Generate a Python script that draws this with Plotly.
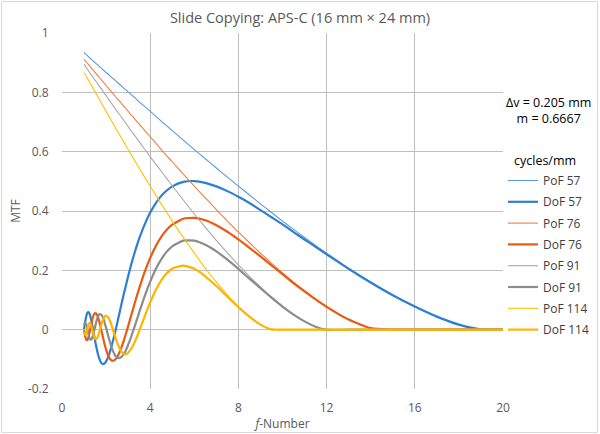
import plotly.graph_objects as go

# f-number sample positions (x axis)
f_number = [1.0, 1.05, 1.1, 1.15, 1.2, 1.25, 1.3, 1.35, 1.4, 1.45, 1.5, 1.55, 1.6, 1.65, 1.7, 1.75, 1.8, 1.85,
            1.9, 1.95, 2.0, 2.1, 2.2, 2.3, 2.4, 2.5, 2.6, 2.7, 2.8, 2.9, 3.0, 3.1, 3.2, 3.3, 3.4, 3.5,
            3.75, 4.0, 4.25, 4.5, 4.75, 5.0, 5.5, 6.0, 6.5, 7.0, 7.5, 8.0, 8.5, 9.0, 9.5, 10.0, 10.5, 11.0,
            11.5, 12.0, 13, 14, 15, 16, 17, 18, 19, 20]

# MTF values (x1000)
pof_57 = [934, 930, 927, 924, 920, 917, 914, 910, 907, 904, 900, 897, 894, 890, 887, 884, 880, 877, 874, 870, 867,
          861, 854, 847, 841, 834, 828, 821, 814, 808, 801, 795, 788, 782, 775, 768,
          752, 736, 720, 703, 687, 671, 639, 607, 576, 545, 514, 484, 454, 424, 395, 366, 338, 311, 284, 258,
          207, 160, 117, 78, 44, 17, 1, 0]
dof_57 = [2, 26, 45, 57, 59, 54, 41, 24, 5, -16, -37, -56, -73, -88, -99, -108, -113, -116, -115, -112, -107,
          -91, -68, -41, -11, 21, 54, 87, 119, 150, 180, 209, 236, 261, 285, 307,
          355, 395, 426, 451, 469, 483, 498, 501, 495, 483, 467, 448, 427, 403, 379, 355, 329, 304, 279, 254,
          205, 159, 116, 78, 44, 17, 1, 0]
pof_76 = [911, 907, 903, 898, 894, 889, 885, 880, 876, 872, 867, 863, 858, 854, 850, 845, 841, 836, 832, 828, 823,
          814, 806, 797, 788, 779, 771, 762, 753, 745, 736, 727, 719, 710, 701, 693,
          671, 650, 629, 607, 586, 566, 524, 484, 444, 405, 366, 329, 293, 258, 224, 191, 160, 131, 103, 78,
          34, 5, 0, 0, 0, 0, 0, 0]
dof_76 = [-2, -22, -34, -35, -26, -10, 9, 27, 42, 52, 56, 54, 48, 38, 25, 9, -7, -23, -39, -54, -67,
          -88, -101, -105, -102, -93, -78, -59, -38, -13, 12, 38, 64, 90, 115, 139,
          195, 242, 281, 313, 337, 354, 374, 377, 369, 352, 330, 304, 276, 247, 217, 187, 157, 129, 102, 77,
          34, 5, 0, 0, 0, 0, 0, 0]
pof_91 = [894, 889, 883, 878, 873, 867, 862, 857, 852, 846, 841, 836, 831, 825, 820, 815, 810, 804, 799, 794, 789,
          778, 768, 757, 747, 736, 726, 716, 705, 695, 685, 674, 664, 654, 644, 634,
          608, 583, 558, 534, 509, 485, 437, 390, 345, 301, 259, 218, 180, 144, 110, 79, 51, 28, 10, 0,
          0, 0, 0, 0, 0, 0, 0, 0]
dof_91 = [17, 25, 18, 3, -15, -29, -34, -31, -21, -7, 9, 25, 38, 47, 52, 52, 49, 42, 32, 19, 6,
          -22, -48, -70, -86, -94, -96, -92, -82, -69, -51, -32, -10, 12, 35, 58,
          113, 162, 204, 237, 263, 281, 300, 300, 286, 264, 236, 205, 172, 140, 108, 78, 51, 28, 10, 0,
          0, 0, 0, 0, 0, 0, 0, 0]
pof_114 = [867, 861, 854, 847, 841, 834, 828, 821, 814, 808, 801, 795, 788, 782, 775, 768, 762, 755, 749, 742, 736,
           723, 710, 697, 684, 671, 658, 646, 633, 620, 607, 595, 582, 570, 557, 545,
           514, 484, 454, 424, 395, 366, 311, 258, 207, 160, 117, 78, 44, 17, 1, 0, 0, 0, 0, 0,
           0, 0, 0, 0, 0, 0, 0, 0]
dof_114 = [-8, -18, -13, 2, 17, 23, 19, 7, -8, -21, -30, -32, -28, -18, -6, 7, 21, 32, 40, 46, 47,
           41, 25, 3, -21, -43, -61, -74, -81, -82, -78, -69, -57, -41, -24, -5,
           45, 92, 133, 166, 190, 206, 216, 205, 180, 147, 111, 76, 44, 17, 1, 0, 0, 0, 0, 0,
           0, 0, 0, 0, 0, 0, 0, 0]

series = [
    ("PoF 57", pof_57, "#5B9BD5", 1.1),
    ("DoF 57", dof_57, "#2E7FD2", 2.2),
    ("PoF 76", pof_76, "#F08040", 1.1),
    ("DoF 76", dof_76, "#EB5A0F", 2.2),
    ("PoF 91", pof_91, "#A8A8A8", 1.1),
    ("DoF 91", dof_91, "#8C8C8C", 2.2),
    ("PoF 114", pof_114, "#FFC000", 1.1),
    ("DoF 114", dof_114, "#FFB400", 2.2),
]

PL, PR, PT, PB = 62, 503, 33, 389
W, H = PR - PL, PB - PT


def px(x):
    return (x - PL) / W


def py(y):
    return (PB - y) / H


fig = go.Figure()
for i, (name, vals, color, w) in enumerate(series):
    fig.add_trace(go.Scatter(
        x=f_number, y=[v / 1000 for v in vals], mode="lines", name=name, legendgroup=f"g{i}",
        line=dict(color=color, width=w, shape="spline", smoothing=0.5)))

fig.update_layout(
    width=600, height=434, margin=dict(l=PL, r=600 - PR, t=PT, b=434 - PB, autoexpand=False),
    paper_bgcolor="white", plot_bgcolor="white",
    font=dict(family="Open Sans", size=12, color="#595959"),
    title=dict(text="Slide Copying: APS-C (16 mm × 24 mm)", x=0.5, xref="container", xanchor="center",
               y=1 - 17.5 / 434, yref="container", yanchor="middle", font=dict(size=14.5, color="#595959")),
    legend=dict(x=px(503), xanchor="left", y=py(166), yanchor="top",
                tracegroupgap=2.3, font=dict(size=12, color="#404040"), bgcolor="rgba(0,0,0,0)"),
    xaxis=dict(range=[0, 20], tickvals=[0, 4, 8, 12, 16, 20], showgrid=True, gridcolor="#BFBFBF",
               zeroline=False, ticks="outside", ticklen=8, tickcolor="rgba(0,0,0,0)", automargin=False,
               title=dict(text="<i>f</i>-Number", standoff=4, font=dict(size=12, color="#595959"))),
    yaxis=dict(range=[-0.2, 1], tickvals=[-0.2, 0, 0.2, 0.4, 0.6, 0.8, 1],
               ticktext=["-0.2", "0", "0.2", "0.4", "0.6", "0.8", "1"], showgrid=True, gridcolor="#BFBFBF",
               zeroline=False, ticks="outside", ticklen=10, tickcolor="rgba(0,0,0,0)", automargin=False,
               title=dict(text="MTF", standoff=4, font=dict(size=12, color="#595959"))),
)
fig.add_annotation(text="Δv = 0.205 mm<br>m = 0.6667", xref="paper", yref="paper", x=px(548), y=py(110),
                   showarrow=False, font=dict(size=12.5, color="#000000"), align="center",
                   xanchor="center", yanchor="middle")
fig.add_annotation(text="cycles/mm", xref="paper", yref="paper", x=px(512), y=py(160),
                   showarrow=False, font=dict(size=12.5, color="#000000"), xanchor="left", yanchor="middle")
fig.add_shape(type="rect", xref="paper", yref="paper", x0=px(1.5), x1=px(597.5),
              y0=py(432.5), y1=py(1.5), line=dict(color="#D9D9D9", width=1))
fig.write_html("out.html")
